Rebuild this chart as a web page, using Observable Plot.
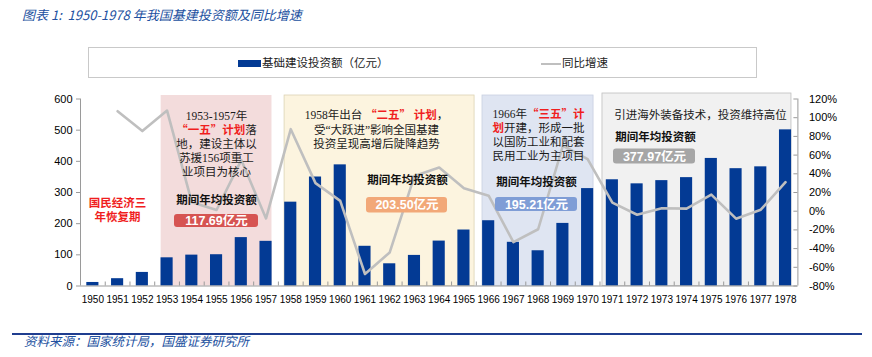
<!DOCTYPE html>
<html><head><meta charset="utf-8">
<script src="https://cdn.jsdelivr.net/npm/d3@7"></script>
<script src="https://cdn.jsdelivr.net/npm/@observablehq/plot@0.6"></script>
<style>
body{margin:0;width:872px;height:357px;position:relative;background:#fff;overflow:hidden;font-family:"Noto Sans CJK SC",sans-serif;}
.abs{position:absolute;white-space:nowrap;line-height:1;}
#title{left:22px;top:8px;font-size:13px;font-style:italic;color:#2150A0;}
#legend{left:88px;top:47px;width:669px;height:31px;border:1px solid #C9C9C9;box-sizing:border-box;}
#sw1{left:238px;top:60px;width:23px;height:7px;background:#033A94;}
#lt1{left:262px;top:57px;font-size:11.5px;color:#222;}
#sw2{left:541px;top:62.5px;width:20px;height:2px;background:#BFBFBF;}
#lt2{left:562px;top:57px;font-size:11.5px;color:#222;}
#capline{left:12px;top:333px;width:850px;height:2px;background:#1F3D8F;}
#caption{left:24px;top:335px;font-size:12.5px;font-style:italic;color:#2150A0;}
#chart{position:absolute;left:0;top:88px;}
</style></head><body>
<div class="abs" id="title">图表 1:&nbsp; 1950-1978 年我国基建投资额及同比增速</div>
<div class="abs" id="legend"></div>
<div class="abs" id="sw1"></div><div class="abs" id="lt1">基础建设投资额（亿元）</div>
<div class="abs" id="sw2"></div><div class="abs" id="lt2">同比增速</div>
<div id="chart"></div>
<div class="abs" id="capline"></div>
<div class="abs" id="caption">资料来源：国家统计局，国盛证券研究所</div>
<script>
// ---- data ----
const years = [1950,1951,1952,1953,1954,1955,1956,1957,1958,1959,1960,1961,1962,1963,1964,1965,1966,1967,1968,1969,1970,1971,1972,1973,1974,1975,1976,1977,1978];
const investment = [11.34,23.46,43.56,90.44,99.07,100.36,155.28,143.32,269.00,349.72,388.69,127.42,71.26,98.16,144.12,179.61,209.42,140.17,113.06,200.83,312.55,340.84,327.79,338.10,347.72,409.32,376.44,382.37,500.99];
const growth = [null,106.9,85.7,107.6,9.5,1.3,54.7,-7.7,87.7,30.0,11.1,-67.2,-44.1,37.7,46.8,24.6,16.6,-33.1,-19.3,70.0,55.6,9.1,-3.8,3.1,2.8,17.7,-8.0,1.6,31.0];
const leftTicks = [0,100,200,300,400,500,600];
const rightTicks = [-80,-60,-40,-20,0,20,40,60,80,100,120];
const periodStart = [1953,1958,1966,1971];
const periodEnd = [1957,1965,1970,1978];
const periodAverage = ["117.69","203.50","195.21","377.97"];
const periodNotes = [
  ["1953-1957年","[“一五”计划]落","地，建设主体以","苏援156项重工","业项目为核心"],
  ["1958年出台 [“二五” 计划]，","受“大跃进”影响全国基建","投资呈现高增后陡降趋势"],
  ["1966年[“三五”计]","[划]开建，形成一批","以国防工业和配套","民用工业为主项目"],
  ["引进海外装备技术，投资维持高位"]
];
const recoveryNote = ["国民经济三","年恢复期"];
const avgLabel = "期间年均投资额";

// ---- layout (pixel geometry of the page) ----
const W = 872, H = 222, TOP = 88;
const mL = 80, mR = 74.6, mT = 10.5, mB = 24.5;
const xDom = [1949.5, 1978.5], yDom = [0, 600];
const pxX = p => xDom[0] + (p - mL) / (W - mL - mR) * (xDom[1] - xDom[0]);
const pxY = p => (H - mB - (p - TOP)) / (H - mT - mB) * (yDom[1] - yDom[0]);
const toLeft = pct => (pct + 80) * 3;

const boxStyle = [
  {padL:0.24, padR:0.24, top:95, fill:"#F3DCDC", stroke:"none", pill:"#D65452",
   lines:[116,130,143.5,157.7,171.7], cx:216, avgY:200, avgX:216, pillX:[174,258], pillY:[214,227]},
  {padL:0.25, padR:0.43, top:95, fill:"#FCF4DF", stroke:"#DCD3B4", pill:"#F2A878",
   lines:[115,130,143.5], cx:376, avgY:179.5, avgX:407, pillX:[366,447], pillY:[197,212.5]},
  {padL:0.25, padR:0.24, top:95, fill:"#DFE5F2", stroke:"#C9D0E0", pill:"#7F9DD6",
   lines:[114,128.3,142.3,155.7], cx:538, avgY:182.3, avgX:536, pillX:[495,577], pillY:[197,211]},
  {padL:0.4, padR:0.24, top:93, fill:"#F1F1F1", stroke:"#BFBFBF", pill:"#A6A6A6",
   lines:[115], cx:700, avgY:137, avgX:655, pillX:[613,695], pillY:[148.5,163.5]}
];

const bars = years.map((y,i) => ({year:y, value:investment[i]}));
const line = years.map((y,i) => ({year:y, pct:growth[i]})).filter(d => d.pct != null);
const boxes = periodStart.map((s,i) => ({start:s, end:periodEnd[i], ...boxStyle[i]}));
const noteRows = boxes.flatMap((b,i) => periodNotes[i].map((t,j) => ({text:t, x:pxX(b.cx), y:pxY(b.lines[j])})));
const avgRows = boxes.map(b => ({text:avgLabel, x:pxX(b.avgX), y:pxY(b.avgY)}));
const pills = boxes.map((b,i) => ({x1:pxX(b.pillX[0]), x2:pxX(b.pillX[1]), y1:pxY(b.pillY[1]), y2:pxY(b.pillY[0]),
  fill:b.pill, text:periodAverage[i] + "亿元", x:pxX((b.pillX[0]+b.pillX[1])/2), y:pxY((b.pillY[0]+b.pillY[1])/2)}));
const recRows = recoveryNote.map((t,j) => ({text:t, x:pxX(117), y:pxY([202.7,217][j])}));
const bounds = years.slice(0,-1).map(y => y + 0.5);

const serif = '"Liberation Serif","Noto Sans CJK SC",serif';
const cjk = '"Noto Sans CJK SC",sans-serif';
const sans = '"Liberation Sans","Noto Sans CJK SC",sans-serif';

const plot = Plot.plot({
  width: W, height: H,
  marginLeft: mL, marginRight: mR, marginTop: mT, marginBottom: mB,
  x: {type:"linear", domain:xDom, axis:null},
  y: {domain:yDom, axis:null},
  style: {fontFamily: sans, fontSize:"11px", color:"#000", background:"transparent", overflow:"visible"},
  marks: [
    Plot.rect(boxes, {x1: d => d.start - d.padL, x2: d => d.end + d.padR, y1: 0, y2: d => pxY(d.top),
      fill: d => d.fill, stroke: d => d.stroke, strokeWidth: 0.8}),
    Plot.rectY(bars, {x1: d => d.year - 0.245, x2: d => d.year + 0.245, y1: 0, y2: "value", fill: "#033A94"}),
    Plot.line(line, {x: "year", y: d => toLeft(d.pct), stroke: "#BFBFBF", strokeWidth: 2.6}),
    Plot.ruleY([0], {stroke:"#9A9A9A"}),
    Plot.ruleX([xDom[0], xDom[1]], {stroke:"#9A9A9A"}),
    Plot.ruleX(bounds, {y1: 0, y2: pxY(TOP + H - mB - 4), stroke:"#9A9A9A"}),
    Plot.ruleY(rightTicks.map(toLeft), {x1: pxX(W - mR - 4), x2: xDom[1], stroke:"#9A9A9A"}),
    Plot.axisY({ticks:leftTicks, tickSize:4, tickPadding:4, fontSize:11, stroke:"#9A9A9A"}),
    Plot.axisY({ticks:rightTicks.map(toLeft), tickFormat: v => Math.round(v/3 - 80) + "%", anchor:"right", tickSize:0, tickPadding:11, fontSize:11}),
    Plot.axisX({ticks:years, tickFormat: d => String(d), tickSize:0, tickPadding:10, fontSize:10}),
    Plot.text(noteRows, {x:"x", y:"y", text:"text", fontSize:11.5, fontFamily:serif, fill:"#1a1a1a", className:"note"}),
    Plot.text(avgRows, {x:"x", y:"y", text:"text", fontSize:11.5, fontWeight:"bold", fontFamily:cjk, fill:"#111"}),
    Plot.text(recRows, {x:"x", y:"y", text:"text", fontSize:11.5, fontWeight:"bold", fontFamily:cjk, fill:"#F01E1E"}),
    Plot.rect(pills, {x1:"x1", x2:"x2", y1:"y1", y2:"y2", fill: d => d.fill, rx:3}),
    Plot.text(pills, {x:"x", y:"y", text:"text", fontSize:12.5, fontWeight:"bold", fontFamily:sans, fill:"#fff"})
  ]
});
// colour the plan names red inside the notes
plot.querySelectorAll("g.note text, .note text").forEach(t => {
  const s = t.textContent;
  if (!s.includes("[")) return;
  t.textContent = "";
  s.split(/(\[[^\]]*\])/).forEach(part => {
    if (!part) return;
    const sp = document.createElementNS("http://www.w3.org/2000/svg","tspan");
    if (part.startsWith("[")) {
      sp.textContent = part.slice(1,-1);
      sp.setAttribute("fill","#F01E1E");
      sp.setAttribute("font-weight","bold");
      sp.setAttribute("font-family", cjk);
    } else sp.textContent = part;
    t.appendChild(sp);
  });
});
document.getElementById("chart").appendChild(plot);
</script>
</body></html>
